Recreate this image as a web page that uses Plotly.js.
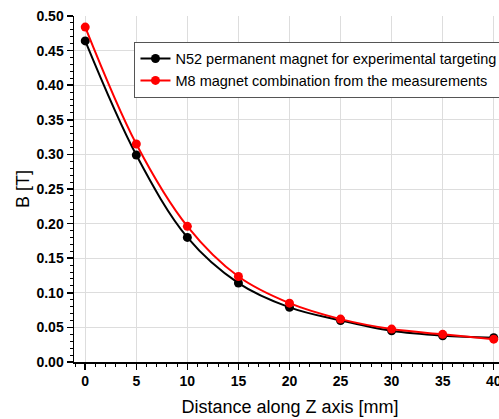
<!DOCTYPE html>
<html>
<head>
<meta charset="utf-8">
<script src="https://cdn.plot.ly/plotly-3.0.1.min.js"></script>
<style>html,body{margin:0;padding:0;overflow:hidden;background:#fff;width:499px;height:419px;}#chart{width:506px;height:419px;}</style>
</head>
<body>
<div id="chart"></div>
<script>
var distance = [0, 5, 10, 15, 20, 25, 30, 35, 40];
var n52 = [0.464, 0.299, 0.180, 0.114, 0.079, 0.060, 0.045, 0.038, 0.035];
var m8 = [0.484, 0.315, 0.196, 0.1235, 0.085, 0.062, 0.0476, 0.040, 0.033];
var names = ["N52 permanent magnet for experimental targeting", "M8 magnet combination from the measurements"];
var xTitle = "Distance along Z axis [mm]";
var yTitle = "B [T]";

var font = "Liberation Sans, Arial, sans-serif";
var traces = [
  {x: distance, y: n52, name: names[0], mode: "lines+markers", line: {color: "#000000", width: 2, shape: "spline"}, marker: {color: "#000000", size: 9}},
  {x: distance, y: m8, name: names[1], mode: "lines+markers", line: {color: "#ff0000", width: 2, shape: "spline"}, marker: {color: "#ff0000", size: 9}}
];
var layout = {
  width: 506, height: 419,
  margin: {l: 74, r: 0, t: 16, b: 57},
  paper_bgcolor: "#ffffff", plot_bgcolor: "#ffffff",
  font: {family: font, color: "#000000"},
  showlegend: true,
  legend: {x: 0.14, xanchor: "left", y: 0.926, yanchor: "top", bgcolor: "#ffffff", bordercolor: "#555555", borderwidth: 1, font: {size: 14.5, family: font}, tracegroupgap: 0, itemwidth: 30},
  xaxis: {
    range: [-1.1, 41.2], tickvals: [0,5,10,15,20,25,30,35,40], ticktext: ["0","5","10","15","20","25","30","35","40"],
    showline: true, linecolor: "#000000", linewidth: 1.5, mirror: false,
    ticks: "outside", ticklen: 6, tickwidth: 1.5, tickcolor: "#000000",
    minor: {dtick: 1, tick0: 0, ticks: "outside", ticklen: 3, tickwidth: 1, tickcolor: "#000000", showgrid: false},
    showgrid: true, gridcolor: "#dddddd", gridwidth: 1, zeroline: false,
    tickfont: {size: 14, family: font, weight: "bold"},
    title: {text: xTitle, font: {size: 18, family: font}, standoff: 12}
  },
  yaxis: {
    range: [0, 0.5], dtick: 0.05, tick0: 0, tickformat: ".2f",
    showline: true, linecolor: "#000000", linewidth: 1.5,
    ticks: "outside", ticklen: 6, tickwidth: 1.5, tickcolor: "#000000",
    minor: {dtick: 0.01, tick0: 0, ticks: "outside", ticklen: 3, tickwidth: 1, tickcolor: "#000000", showgrid: false},
    showgrid: true, gridcolor: "#dddddd", gridwidth: 1, zeroline: false,
    tickfont: {size: 14, family: font, weight: "bold"},
    title: {text: yTitle, font: {size: 18, family: font}, standoff: 2}
  }
};
Plotly.newPlot("chart", traces, layout, {displayModeBar: false, staticPlot: true});
</script>
</body>
</html>
